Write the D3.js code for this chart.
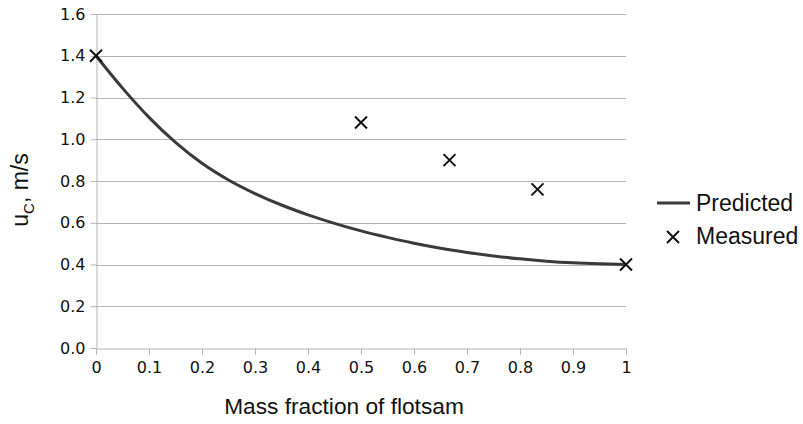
<!DOCTYPE html>
<html>
<head>
    <meta charset="UTF-8">
    <script src="https://cdn.jsdelivr.net/npm/d3@7"></script>
    <style>
        body { margin: 0; background: #fff; }
        .grid line { stroke: #b3b3b3; stroke-width: 1px; }
        .axis path, .axis line { stroke: #b3b3b3; }
        .axis text { font-family: "DejaVu Sans", sans-serif; font-size: 16px; fill: #111; }
        .title { font-family: "Liberation Sans", Arial, sans-serif; fill: #111; }
    </style>
</head>
<body>
<svg width="803" height="424"></svg>
<script>
    // predicted curve
    var predX = [0, 0.05, 0.1, 0.15, 0.2, 0.25, 0.3, 0.35, 0.4, 0.45, 0.5, 0.55, 0.6, 0.65, 0.7, 0.75, 0.8, 0.85, 0.9, 0.95, 1];
    var predY = [1.4, 1.245, 1.105, 0.985, 0.885, 0.805, 0.74, 0.685, 0.638, 0.597, 0.561, 0.53, 0.502, 0.478, 0.458, 0.441, 0.427, 0.416, 0.408, 0.403, 0.4];

    var measX = [0, 0.5, 0.667, 0.833, 1];
    var measY = [1.4, 1.08, 0.9, 0.76, 0.4];

    var xTicks = [0, 0.1, 0.2, 0.3, 0.4, 0.5, 0.6, 0.7, 0.8, 0.9, 1];
    var yTicks = [0, 0.2, 0.4, 0.6, 0.8, 1.0, 1.2, 1.4, 1.6];

    var svg = d3.select("svg");

    var x = d3.scaleLinear().domain([0, 1]).range([96, 626]);
    var y = d3.scaleLinear().domain([0, 1.6]).range([348, 14]);

    // horizontal grid
    svg.append("g")
        .attr("class", "grid")
        .selectAll("line")
        .data(yTicks.slice(1))
        .enter().append("line")
        .attr("x1", x(0)).attr("x2", x(1))
        .attr("y1", function(d) { return Math.round(y(d)) + 0.5; })
        .attr("y2", function(d) { return Math.round(y(d)) + 0.5; });

    svg.append("g")
        .attr("class", "axis")
        .attr("transform", "translate(0," + (y(0) + 0.5) + ")")
        .call(d3.axisBottom(x).tickValues(xTicks).tickSize(6).tickSizeOuter(0)
            .tickFormat(function(d) { return d === 0 || d === 1 ? d : d3.format(".1f")(d); }))
        .call(function(g) { g.selectAll("text").attr("dy", "0.95em"); });

    svg.append("g")
        .attr("class", "axis")
        .attr("transform", "translate(" + (x(0) + 0.5) + ",0)")
        .call(d3.axisLeft(y).tickValues(yTicks).tickSize(6).tickSizeOuter(0).tickFormat(d3.format(".1f")))
        .call(function(g) { g.selectAll("text").attr("x", -11); });

    var line = d3.line()
        .x(function(d, i) { return x(predX[i]); })
        .y(function(d) { return y(d); })
        .curve(d3.curveMonotoneX);

    svg.append("path")
        .datum(predY)
        .attr("d", line)
        .attr("fill", "none")
        .attr("stroke", "#3a3a3a")
        .attr("stroke-width", 3);

    var s = 6;
    var cross = "M" + (-s) + "," + (-s) + "L" + s + "," + s + "M" + (-s) + "," + s + "L" + s + "," + (-s);

    svg.append("g")
        .selectAll("path")
        .data(measY)
        .enter().append("path")
        .attr("transform", function(d, i) { return "translate(" + x(measX[i]) + "," + y(d) + ")"; })
        .attr("d", cross)
        .attr("stroke", "#111")
        .attr("stroke-width", 2)
        .attr("fill", "none");

    // axis titles
    svg.append("text")
        .attr("class", "title")
        .attr("x", 344).attr("y", 414)
        .attr("text-anchor", "middle")
        .style("font-size", "22.7px")
        .text("Mass fraction of flotsam");

    var yt = svg.append("text")
        .attr("class", "title")
        .attr("transform", "translate(28,190) rotate(-90)")
        .attr("text-anchor", "middle")
        .style("font-size", "23px");
    yt.append("tspan").text("u");
    yt.append("tspan").attr("dy", 6).style("font-size", "15px").text("C");
    yt.append("tspan").attr("dy", -6).text(", m/s");

    // legend
    var legend = svg.append("g").attr("transform", "translate(657,0)");
    legend.append("line")
        .attr("x1", 0).attr("x2", 33).attr("y1", 203).attr("y2", 203)
        .attr("stroke", "#3a3a3a").attr("stroke-width", 3);
    legend.append("text").attr("class", "title")
        .attr("x", 39).attr("y", 211).style("font-size", "23px").text("Predicted");
    legend.append("path")
        .attr("transform", "translate(16,237)")
        .attr("d", cross)
        .attr("stroke", "#111").attr("stroke-width", 2);
    legend.append("text").attr("class", "title")
        .attr("x", 39).attr("y", 244).style("font-size", "23px").text("Measured");
</script>
</body>
</html>
